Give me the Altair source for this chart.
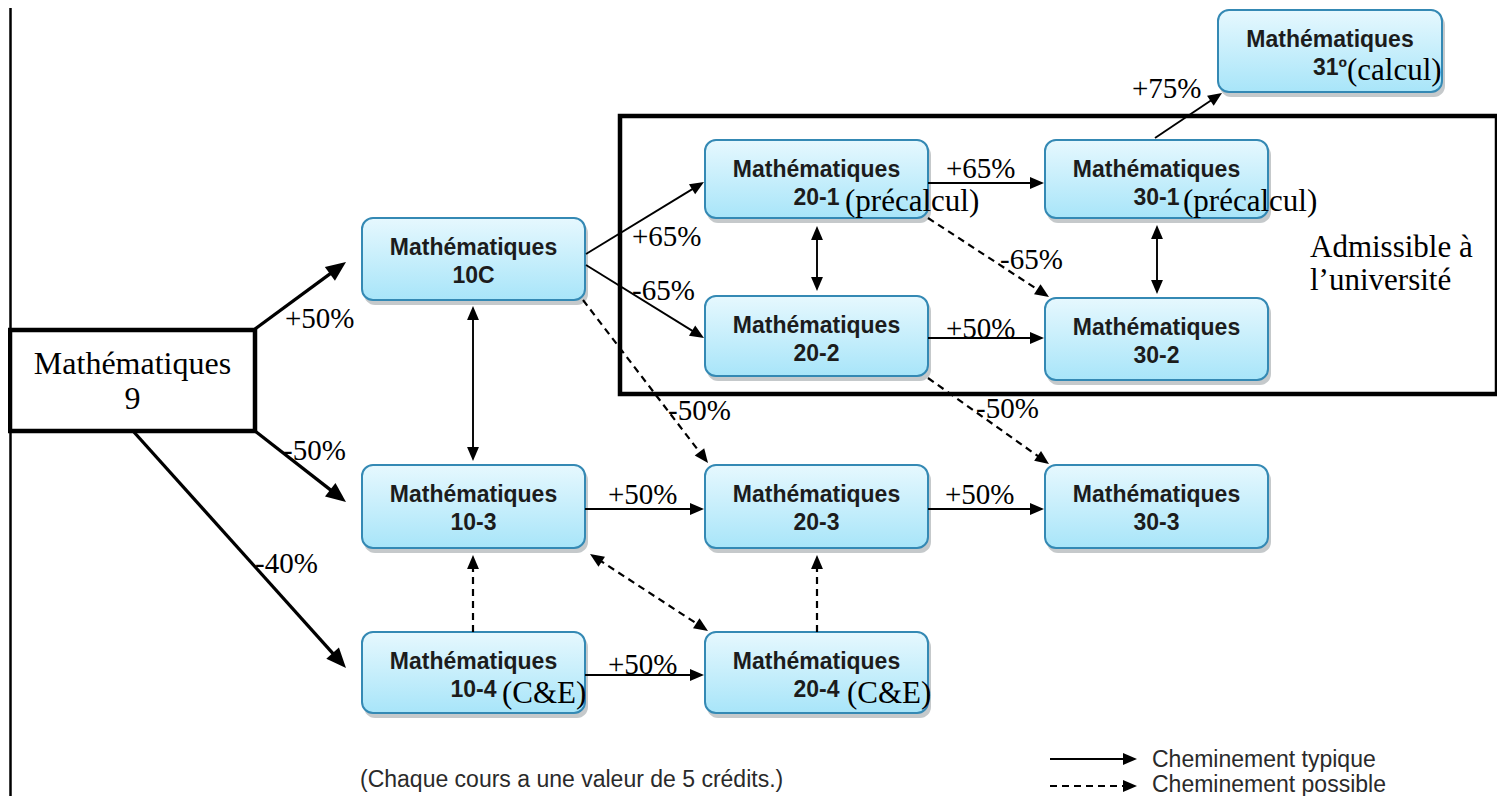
import math
import altair as alt
import pandas as pd

# ---------------- data (reference pixel coordinates) ----------------
course_word = "Mathématiques"
course_num = ["10C", "20-1", "20-2", "30-1", "30-2", "31º", "10-3", "20-3", "30-3", "10-4", "20-4"]
box_left = [362, 705, 705, 1045, 1045, 1218, 362, 705, 1045, 362, 705]
box_right = [585, 928, 928, 1268, 1268, 1442, 585, 928, 1268, 585, 928]
box_top = [218, 140, 296, 140, 298, 10, 465, 465, 465, 632, 632]
box_bottom = [300, 218, 376, 218, 380, 92, 548, 548, 548, 713, 713]

sub_text = ["(précalcul)", "(précalcul)", "(calcul)", "(C&E)", "(C&E)"]
sub_left = [845, 1183, 1347, 502, 847]
sub_base = [211, 211, 80, 703, 703]

start_lines = ["Mathématiques", "9"]
start_box = [10, 255, 330, 431]
start_base = [374, 409]

frame_box = [620, 1497, 116, 394]
frame_lines = ["Admissible à", "l’université"]
frame_text_left = [1310, 1310]
frame_text_base = [257, 290]

# edges: start -> tip
edge_x1 = [255, 255, 133, 586, 586, 928, 928, 585, 928, 585, 1155, 473, 817, 1157, 583, 928, 928, 473, 817, 590, 1050, 1050]
edge_y1 = [329, 431, 431, 254, 265, 183, 338, 509, 509, 675, 138, 306, 226, 225, 300, 218, 378, 632, 632, 554, 759, 786]
edge_x2 = [346, 346, 346, 704, 704, 1044, 1044, 704, 1044, 704, 1222, 473, 817, 1157, 708, 1049, 1049, 473, 817, 708, 1137, 1137]
edge_y2 = [262, 502, 668, 182, 338, 183, 338, 509, 509, 675, 93, 461, 291, 294, 463, 297, 464, 555, 555, 631, 759, 786]
edge_style = ["thick", "thick", "thick", "thin", "thin", "thin", "thin", "thin", "thin", "thin", "thin",
              "thin", "thin", "thin", "dash", "dash", "dash", "dash", "dash", "dash", "thin", "dash"]
edge_heads = ["end", "end", "end", "end", "end", "end", "end", "end", "end", "end", "end",
              "both", "both", "both", "end", "end", "end", "end", "end", "both", "end", "end"]

pct_text = ["+50%", "-50%", "-40%", "+65%", "-65%", "-50%", "+65%", "-65%", "+50%", "-50%", "+75%", "+50%", "+50%", "+50%"]
pct_left = [285, 283, 255, 632, 632, 668, 946, 1000, 946, 976, 1132, 608, 945, 608]
pct_base = [328, 460, 573, 246, 300, 420, 178, 269, 338, 418, 98, 504, 504, 674]

legend_text = ["Cheminement typique", "Cheminement possible"]
legend_left = [1152, 1152]
legend_base = [767, 792]

note_text = ["(Chaque cours a une valeur de 5 crédits.)"]
note_left = [360]
note_base = [787]

border_x = [10.5]
border_y = [8]
border_y2 = [796]

# ---------------- tables ----------------
boxes = pd.DataFrame({"num": course_num, "l": box_left, "r": box_right, "t": box_top, "b": box_bottom})
boxes["cx"] = (boxes["l"] + boxes["r"]) / 2
boxes["word"] = course_word
boxes["b1"] = boxes["t"] + 37
boxes["b2"] = boxes["t"] + 65
shadow = boxes.assign(l=boxes["l"] + 2, r=boxes["r"] + 3, t=boxes["t"] + 4, b=boxes["b"] + 5)

subs = pd.DataFrame({"txt": sub_text, "x": sub_left, "y": sub_base})
start = pd.DataFrame({"l": [start_box[0]], "r": [start_box[1]], "t": [start_box[2]], "b": [start_box[3]]})
start_txt = pd.DataFrame({"txt": start_lines, "x": [(start_box[0] + start_box[1]) / 2] * 2, "y": start_base})
frame = pd.DataFrame({"l": [frame_box[0]], "r": [frame_box[1]], "t": [frame_box[2]], "b": [frame_box[3]]})
frame_txt = pd.DataFrame({"txt": frame_lines, "x": frame_text_left, "y": frame_text_base})
pcts = pd.DataFrame({"txt": pct_text, "x": pct_left, "y": pct_base})
legend = pd.DataFrame({"txt": legend_text, "x": legend_left, "y": legend_base})
note = pd.DataFrame({"txt": note_text, "x": note_left, "y": note_base})
border = pd.DataFrame({"x": border_x, "y": border_y, "y2": border_y2})

head_len = {"thick": 20, "thin": 14, "dash": 14}
line_rows, head_rows = [], []
for i in range(len(edge_x1)):
    x1, y1, x2, y2 = edge_x1[i], edge_y1[i], edge_x2[i], edge_y2[i]
    st = edge_style[i]
    L = head_len[st]
    dx, dy = x2 - x1, y2 - y1
    d = math.hypot(dx, dy)
    ux, uy = dx / d, dy / d
    ang = math.degrees(math.atan2(ux, -uy)) % 360
    head_rows.append({"x": x2, "y": y2, "ang": ang, "st": st})
    sx, sy = x1, y1
    ex, ey = x2 - ux * L * 0.7, y2 - uy * L * 0.7
    if edge_heads[i] == "both":
        head_rows.append({"x": x1, "y": y1, "ang": (ang + 180) % 360, "st": st})
        sx, sy = x1 + ux * L * 0.7, y1 + uy * L * 0.7
    line_rows.append({"x": sx, "y": sy, "x2": ex, "y2": ey, "st": st})
lines = pd.DataFrame(line_rows)
heads = pd.DataFrame(head_rows)

# ---------------- chart ----------------
W, H = 1489, 788
xs = alt.Scale(domain=[8, 8 + W], nice=False, zero=False)
ys = alt.Scale(domain=[8, 8 + H], nice=False, zero=False, reverse=True)


def X(f):
    return alt.X(f + ":Q", scale=xs, axis=None)


def Y(f):
    return alt.Y(f + ":Q", scale=ys, axis=None)


def rect_enc(ch):
    return ch.encode(x=X("l"), x2=alt.X2("r"), y=Y("t"), y2=alt.Y2("b"))


grad = {
    "gradient": "linear", "x1": 0, "y1": 0, "x2": 0, "y2": 1,
    "stops": [{"offset": 0, "color": "#e6f8fe"}, {"offset": 1, "color": "#a8e5f9"}],
}

layers = []
layers.append(alt.Chart(border).mark_rule(color="black", strokeWidth=2.5).encode(
    x=X("x"), y=Y("y"), y2=alt.Y2("y2")))
layers.append(rect_enc(alt.Chart(shadow).mark_rect(cornerRadius=11, color="#59636a", opacity=0.35)))
layers.append(rect_enc(alt.Chart(boxes).mark_rect(cornerRadius=11, fill=grad, stroke="#3489b4", strokeWidth=2)))
layers.append(rect_enc(alt.Chart(frame).mark_rect(fill="white", fillOpacity=0, stroke="black", strokeWidth=4.5)))
layers.append(rect_enc(alt.Chart(start).mark_rect(fill="white", stroke="black", strokeWidth=4.5)))

for st, w, dash in [("thick", 3.3, None), ("thin", 1.9, None), ("dash", 2.2, [7, 5])]:
    kw = {"color": "black", "strokeWidth": w}
    if dash:
        kw["strokeDash"] = dash
    sub = lines[lines["st"] == st]
    layers.append(alt.Chart(sub).mark_rule(**kw).encode(
        x=X("x"), y=Y("y"), x2=alt.X2("x2"), y2=alt.Y2("y2")))
    hs = heads[heads["st"] == st]
    L = head_len[st]
    layers.append(alt.Chart(hs).mark_point(
        shape="M0,0L-0.85,2L0.85,2Z", filled=True, color="black", opacity=1, size=L * L, strokeWidth=0
    ).encode(x=X("x"), y=Y("y"), angle=alt.Angle("ang:Q", scale=None)))

# course labels
sans_b = dict(font="Liberation Sans", fontWeight="bold", fontSize=23, color="#1c1c1c",
              align="center", baseline="alphabetic")
layers.append(alt.Chart(boxes).mark_text(**sans_b).encode(x=X("cx"), y=Y("b1"), text="word:N"))
layers.append(alt.Chart(boxes).mark_text(**sans_b).encode(x=X("cx"), y=Y("b2"), text="num:N"))

serif = dict(font="Liberation Serif", color="black", baseline="alphabetic")
layers.append(alt.Chart(subs).mark_text(fontSize=31, align="left", **serif).encode(
    x=X("x"), y=Y("y"), text="txt:N"))
layers.append(alt.Chart(start_txt).mark_text(fontSize=32, align="center", **serif).encode(
    x=X("x"), y=Y("y"), text="txt:N"))
layers.append(alt.Chart(frame_txt).mark_text(fontSize=31, align="left", **serif).encode(
    x=X("x"), y=Y("y"), text="txt:N"))
layers.append(alt.Chart(pcts).mark_text(fontSize=29, align="left", **serif).encode(
    x=X("x"), y=Y("y"), text="txt:N"))

sans = dict(font="Liberation Sans", fontSize=23, color="#2a2a2a", align="left", baseline="alphabetic")
layers.append(alt.Chart(legend).mark_text(**sans).encode(x=X("x"), y=Y("y"), text="txt:N"))
layers.append(alt.Chart(note).mark_text(**sans).encode(x=X("x"), y=Y("y"), text="txt:N"))

chart = alt.layer(*layers).properties(
    width=W, height=H, padding=0, autosize="none", background="white"
).configure_view(stroke=None)

chart.save("out.html", embed_options={"renderer": "svg", "actions": False})
